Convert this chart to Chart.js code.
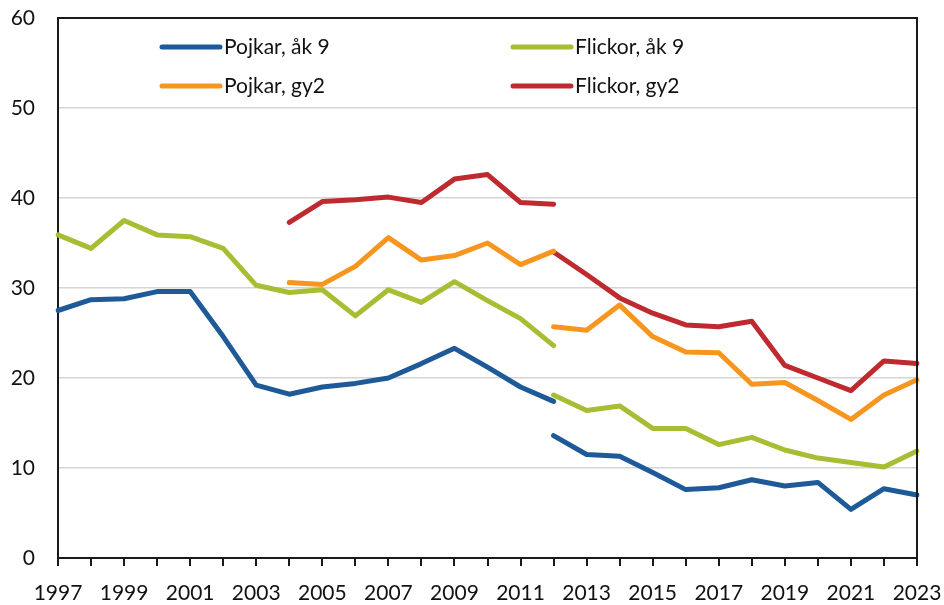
<!DOCTYPE html>
<html>
<head>
<meta charset="utf-8">
<script src="https://cdn.jsdelivr.net/npm/chart.js@4.4.0/dist/chart.umd.min.js"></script>
<style>
  html, body { margin: 0; padding: 0; background: #fff; }
  #chart { display: block; }
</style>
</head>
<body>
<canvas id="chart" width="944" height="605"></canvas>
<script>
// years on the x axis
const years = [];
for (let y = 1997; y <= 2023; y++) years.push(y);

// series, split at the 2012 method change (first part / second part)
const pojkarAk9A = [27.5, 28.7, 28.8, 29.6, 29.6, 24.6, 19.2, 18.2, 19.0, 19.4, 20.0, 21.6, 23.3, 21.2, 19.0, 17.4]; // 1997-2012
const pojkarAk9B = [13.6, 11.5, 11.3, 9.5, 7.6, 7.8, 8.7, 8.0, 8.4, 5.4, 7.7, 7.0]; // 2012-2023
const flickorAk9A = [35.9, 34.4, 37.5, 35.9, 35.7, 34.4, 30.3, 29.5, 29.8, 26.9, 29.8, 28.4, 30.7, 28.6, 26.6, 23.6]; // 1997-2012
const flickorAk9B = [18.1, 16.4, 16.9, 14.4, 14.4, 12.6, 13.4, 12.0, 11.1, 10.6, 10.1, 11.9]; // 2012-2023
const pojkarGy2A = [30.6, 30.4, 32.4, 35.6, 33.1, 33.6, 35.0, 32.6, 34.1]; // 2004-2012
const pojkarGy2B = [25.7, 25.3, 28.1, 24.6, 22.9, 22.8, 19.3, 19.5, 17.5, 15.4, 18.1, 19.8]; // 2012-2023
const flickorGy2A = [37.3, 39.6, 39.8, 40.1, 39.5, 42.1, 42.6, 39.5, 39.3]; // 2004-2012
const flickorGy2B = [34.0, 31.5, 28.9, 27.2, 25.9, 25.7, 26.3, 21.4, 20.0, 18.6, 21.9, 21.6]; // 2012-2023

const seriesNames = ["Pojkar, åk 9", "Flickor, åk 9", "Pojkar, gy2", "Flickor, gy2"];
const colors = ["#1d5a97", "#a9bd34", "#f7961f", "#be2a30"];

// pad a segment out to the full year range with nulls
function place(values, startYear) {
  return years.map((y) => {
    const i = y - startYear;
    return i >= 0 && i < values.length ? values[i] : null;
  });
}

function seg(idx, values, start, inLegend) {
  return {
    label: seriesNames[idx],
    data: place(values, start),
    borderColor: colors[idx],
    backgroundColor: colors[idx],
    borderWidth: 5,
    pointRadius: 0,
    tension: 0,
    spanGaps: false,
    borderJoinStyle: "round",
    borderCapStyle: "round",
    inLegend: inLegend,
  };
}

const datasets = [
  seg(0, pojkarAk9A, 1997, true),
  seg(0, pojkarAk9B, 2012, false),
  seg(1, flickorAk9A, 1997, true),
  seg(1, flickorAk9B, 2012, false),
  seg(2, pojkarGy2A, 2004, true),
  seg(2, pojkarGy2B, 2012, false),
  seg(3, flickorGy2A, 2004, true),
  seg(3, flickorGy2B, 2012, false),
];

const FONT = "Lato, 'Open Sans', sans-serif";

// frame round the plot + legend inside the plot
const framePlugin = {
  id: "frame",
  afterDraw(chart) {
    const { ctx, chartArea: a } = chart;
    ctx.save();
    ctx.strokeStyle = "#1a1a1a";
    ctx.lineWidth = 2;
    ctx.beginPath();
    ctx.moveTo(a.left, a.top);
    ctx.lineTo(a.right, a.top);
    ctx.lineTo(a.right, a.bottom);
    ctx.stroke();

    // legend: 2 columns x 2 rows
    const spots = [
      { x: 162, y: 47 },
      { x: 513, y: 47 },
      { x: 162, y: 86 },
      { x: 513, y: 86 },
    ];
    const entries = chart.data.datasets.filter((d) => d.inLegend);
    ctx.font = "21px " + FONT;
    ctx.textBaseline = "middle";
    ctx.textAlign = "left";
    entries.forEach((d, i) => {
      const p = spots[i];
      ctx.strokeStyle = d.borderColor;
      ctx.lineWidth = 5;
      ctx.lineCap = "round";
      ctx.beginPath();
      ctx.moveTo(p.x, p.y);
      ctx.lineTo(p.x + 58, p.y);
      ctx.stroke();
      ctx.fillStyle = "#111";
      ctx.fillText(d.label, p.x + 62, p.y);
    });
    ctx.restore();
  },
};

new Chart(document.getElementById("chart").getContext("2d"), {
  type: "line",
  data: { labels: years, datasets: datasets },
  options: {
    responsive: false,
    animation: false,
    layout: { autoPadding: false, padding: { left: 0, top: 18, right: 27, bottom: 0 } },
    plugins: {
      legend: { display: false },
      tooltip: { enabled: false },
    },
    scales: {
      x: {
        type: "category",
        offset: false,
        grid: {
          drawOnChartArea: false,
          drawTicks: true,
          tickLength: 8,
          color: "#1a1a1a",
          lineWidth: 2,
        },
        border: { color: "#1a1a1a", width: 2 },
        ticks: {
          autoSkip: false,
          maxRotation: 0,
          padding: 15,
          color: "#111",
          font: { family: FONT, size: 21 },
          callback: function (value) {
            const yr = years[value];
            return yr % 2 === 1 ? String(yr) : "";
          },
        },
        afterFit: (s) => {
          s.height = 47;
          s.paddingLeft = 0;
          s.paddingRight = 0;
        },
      },
      y: {
        min: 0,
        max: 60,
        ticks: {
          stepSize: 10,
          padding: 23,
          color: "#111",
          font: { family: FONT, size: 21 },
        },
        grid: {
          color: "#d4d4d4",
          lineWidth: 1.5,
          drawTicks: false,
        },
        border: { color: "#1a1a1a", width: 2 },
        afterFit: (s) => {
          s.width = 58;
          s.paddingTop = 0;
          s.paddingBottom = 0;
        },
      },
    },
  },
  plugins: [framePlugin],
});
</script>
</body>
</html>
